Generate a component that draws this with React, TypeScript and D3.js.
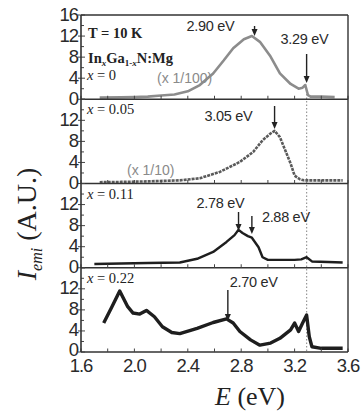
import React from "react";
import * as d3 from "d3";

// Photoluminescence spectra of InxGa1-xN:Mg at T = 10 K, four compositions
const energyX0 = [1.74, 1.9, 2.0, 2.1, 2.2, 2.3, 2.4, 2.49, 2.59, 2.67, 2.74, 2.82, 2.88, 2.94, 3.02, 3.09, 3.17, 3.23, 3.26, 3.28, 3.3, 3.32, 3.4, 3.5];
const intensityX0 = [0.3, 0.35, 0.4, 0.5, 0.7, 0.9, 1.5, 2.7, 4.9, 7.4, 9.7, 11.4, 12.0, 10.9, 8.1, 4.9, 2.9, 2.0, 2.2, 2.7, 0.8, 0.5, 0.5, 0.4];

const energyX005 = [1.74, 1.9, 2.1, 2.34, 2.49, 2.64, 2.79, 2.89, 2.96, 3.02, 3.05, 3.09, 3.13, 3.17, 3.2, 3.24, 3.27, 3.4, 3.56];
const intensityX005 = [0.25, 0.3, 0.4, 0.6, 1.0, 2.2, 4.1, 6.0, 8.2, 9.5, 10.0, 8.8, 6.3, 3.8, 1.5, 0.8, 0.6, 0.6, 0.6];

const energyX011 = [1.7, 1.9, 2.1, 2.34, 2.47, 2.59, 2.69, 2.75, 2.78, 2.81, 2.85, 2.88, 2.93, 2.96, 3.0, 3.1, 3.2, 3.25, 3.29, 3.33, 3.45, 3.56];
const intensityX011 = [0.7, 0.8, 0.9, 1.0, 1.7, 3.0, 4.9, 6.2, 7.2, 6.6, 6.0, 5.7, 3.9, 2.0, 1.5, 1.5, 1.5, 1.6, 2.0, 1.2, 1.1, 1.0];

const energyX022 = [1.77, 1.83, 1.89, 1.95, 1.99, 2.04, 2.09, 2.15, 2.21, 2.28, 2.34, 2.47, 2.59, 2.69, 2.74, 2.79, 2.87, 2.94, 3.02, 3.09, 3.17, 3.2, 3.23, 3.26, 3.29, 3.31, 3.33, 3.4, 3.56];
const intensityX022 = [5.5, 8.5, 11.6, 8.6, 7.4, 7.2, 7.9, 6.7, 4.8, 3.7, 3.5, 4.5, 5.6, 6.3, 5.5, 3.9, 2.3, 1.3, 1.7, 2.6, 4.2, 5.5, 3.9, 5.5, 7.0, 2.9, 1.0, 0.7, 0.7];

const compositionLabels = ["x = 0", "x = 0.05", "x = 0.11", "x = 0.22"];
const scaleNotes = ["(x 1/100)", "(x 1/10)", "", ""];
const xTickValues = [1.6, 2.0, 2.4, 2.8, 3.2, 3.6];
const yTickValues = [0, 4, 8, 12, 16];
const dottedEnergy = 3.29;

// Peak markers: panel index, energy and label
const peakPanels = [0, 0, 1, 2, 2, 3];
const peakEnergies = [2.9, 3.29, 3.05, 2.78, 2.88, 2.7];
const peakLabels = ["2.90 eV", "3.29 eV", "3.05 eV", "2.78 eV", "2.88 eV", "2.70 eV"];

const W = 361;
const H = 415;
const left = 81;
const right = 348;
const top = 15;
const bottom = 352;
const panelH = (bottom - top) / 4;

const series = [
  { e: energyX0, v: intensityX0, color: "#8c8c8c", width: 2.6, dash: "" },
  { e: energyX005, v: intensityX005, color: "#5a5a5a", width: 2.6, dash: "3 1" },
  { e: energyX011, v: intensityX011, color: "#1e1e1e", width: 2.4, dash: "" },
  { e: energyX022, v: intensityX022, color: "#1e1e1e", width: 3.4, dash: "" },
];

const sans = "Liberation Sans, Arial, sans-serif";
const serif = "Liberation Serif, Times New Roman, serif";

export default function App() {
  const x = d3.scaleLinear().domain([1.6, 3.6]).range([left, right]);
  const yFor = (i: number) =>
    d3.scaleLinear().domain([0, 16]).range([top + panelH * (i + 1), top + panelH * i]);
  const minorX = d3.range(1.6, 3.61, 0.2);
  const minorY = d3.range(0, 16.1, 2);

  // arrow extents and label offsets for each peak marker
  const arrowSpecs = [
    { y0: 26, y1: 36, lx: -68, ly: 31 },
    { y0: 54, y1: 83, lx: -26, ly: 44 },
    { y0: 106, y1: 129, lx: -70, ly: 121 },
    { y0: 212, y1: 231, lx: -42, ly: 208 },
    { y0: 216, y1: 234, lx: 10, ly: 222 },
    { y0: 290, y1: 321, lx: 2, ly: 287 },
  ];

  return (
    <svg width={W} height={H} style={{ position: "absolute", left: 0, top: 0, background: "#fff" }}>
      {/* dotted guide line at 3.29 eV */}
      <line x1={x(dottedEnergy)} x2={x(dottedEnergy)} y1={94} y2={bottom} stroke="#999" strokeWidth={1.2} strokeDasharray="1.5 2" />

      {series.map((s, i) => {
        const y = yFor(i);
        const pts = s.e.map((e, k) => [x(e), y(s.v[k])] as [number, number]);
        const path = d3.line()(pts) || "";
        const y0 = y(0);
        return (
          <g key={i}>
            <path d={path} fill="none" stroke={s.color} strokeWidth={s.width} strokeDasharray={s.dash || undefined} strokeLinejoin="round" />
            {/* panel baseline (x axis) */}
            <line x1={left} x2={right} y1={y0} y2={y0} stroke="#333" strokeWidth={1.4} />
            {minorX.map((t, k) => (
              <line key={k} x1={x(t)} x2={x(t)} y1={y0} y2={y0 - 3.5} stroke="#444" strokeWidth={1} />
            ))}
            {minorY.map((t, k) => (
              <line key={k} x1={left} x2={left + (t % 4 === 0 ? 4 : 3)} y1={y(t)} y2={y(t)} stroke="#444" strokeWidth={1} />
            ))}
            {yTickValues
              .filter((t) => i === 0 || t < 16)
              .map((t) => (
                <g key={t}>
                  <line x1={left - 3} x2={left} y1={y(t)} y2={y(t)} stroke="#444" strokeWidth={1} />
                  <text x={left - 3} y={y(t) + (i === 3 && t === 0 ? 4 : 5.5)} textAnchor="end" fontFamily={sans} fontSize={18.5} letterSpacing={-1} fill="#2a2a2a">
                    {t}
                  </text>
                </g>
              ))}
            <text x={87} y={y(16) + (i === 0 ? 65 : 15)} fontFamily={serif} fontSize={14.5} fill="#222">
              <tspan fontStyle="italic">x</tspan>
              {compositionLabels[i].slice(1)}
            </text>
            {scaleNotes[i] && (
              <text x={i === 0 ? 157 : 127} y={i === 0 ? 83 : 175} fontFamily={sans} fontSize={14} fill="#8a8a8a">
                {scaleNotes[i]}
              </text>
            )}
          </g>
        );
      })}

      {/* frame */}
      <line x1={left} x2={left} y1={top} y2={bottom} stroke="#333" strokeWidth={1.6} />
      <line x1={left} x2={right} y1={top} y2={top} stroke="#333" strokeWidth={1.4} />
      <line x1={right} x2={right} y1={top} y2={bottom} stroke="#333" strokeWidth={1.4} />

      {/* header labels in the top panel */}
      <text x={88} y={38} fontFamily={serif} fontSize={14.5} fontWeight="bold" fill="#222">T = 10 K</text>
      <text x={88} y={63} fontFamily={serif} fontSize={14.5} fontWeight="bold" fill="#222">
        In<tspan fontSize={9} dy={3} fontStyle="italic">x</tspan>
        <tspan dy={-3}>Ga</tspan>
        <tspan fontSize={9} dy={3}>1-<tspan fontStyle="italic">x</tspan></tspan>
        <tspan dy={-3}>N:Mg</tspan>
      </text>

      {/* peak arrows and energy labels */}
      {peakEnergies.map((e, k) => {
        const a = arrowSpecs[k];
        const ax = x(e);
        return (
          <g key={k} data-panel={peakPanels[k]}>
            <line x1={ax} x2={ax} y1={a.y0} y2={a.y1 - 5} stroke="#222" strokeWidth={1.4} />
            <path d={`M${ax - 3},${a.y1 - 7} L${ax + 3},${a.y1 - 7} L${ax},${a.y1} Z`} fill="#222" />
            <text x={ax + a.lx} y={a.ly} fontFamily={sans} fontSize={14.5} fill="#2a2a2a" letterSpacing={-0.3}>
              {peakLabels[k]}
            </text>
          </g>
        );
      })}

      {/* x tick labels */}
      {xTickValues.map((t) => (
        <text key={t} x={x(t)} y={372} textAnchor="middle" fontFamily={sans} fontSize={18.5} letterSpacing={-1} fill="#2a2a2a">
          {t.toFixed(1)}
        </text>
      ))}

      {/* axis titles */}
      <text x={250} y={405} textAnchor="middle" fontFamily={serif} fontSize={26} fill="#222">
        <tspan fontStyle="italic">E</tspan> (eV)
      </text>
      <text transform="translate(36,224) rotate(-90)" textAnchor="middle" fontFamily={serif} fontSize={28} fill="#222">
        <tspan fontStyle="italic">I</tspan>
        <tspan fontSize={16} fontStyle="italic" dy={6}>emi</tspan>
        <tspan dy={-6}> (A.U.)</tspan>
      </text>
    </svg>
  );
}
